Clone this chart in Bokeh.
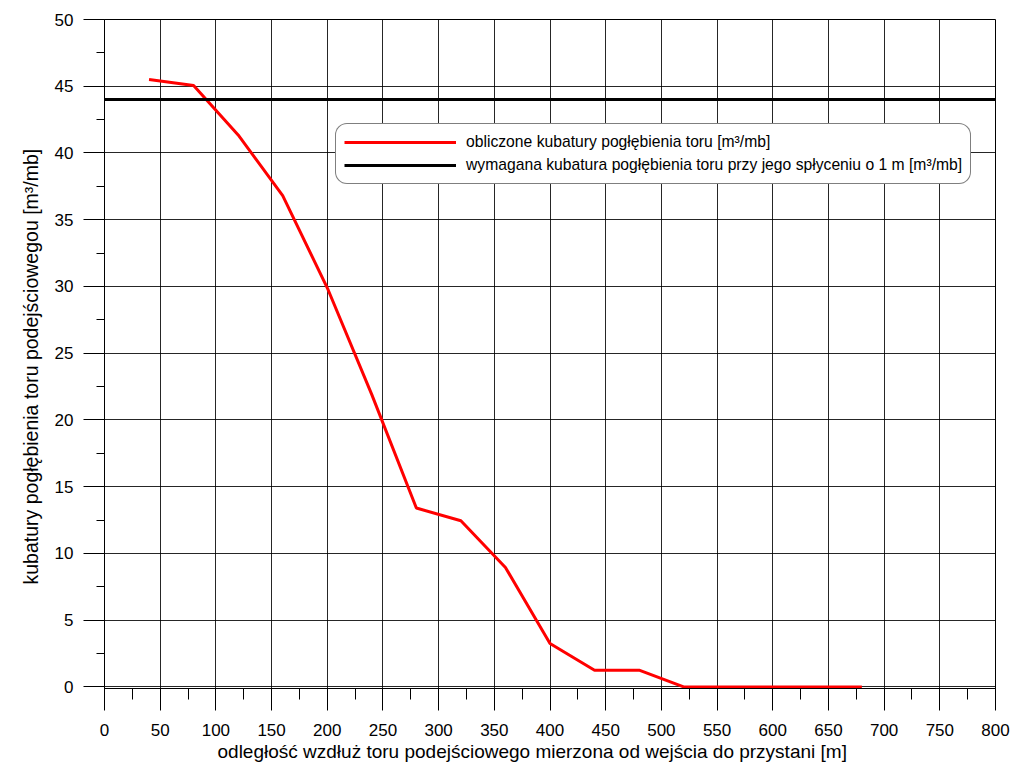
from bokeh.plotting import figure
from bokeh.models import (Range1d, SingleIntervalTicker, Legend, LegendItem,
                          LinearAxis, Grid, Title)
from bokeh.embed import file_html
from bokeh.resources import INLINE

# distance along the approach channel [m]
distance_m = [40, 80, 120, 160, 200, 240, 280, 320, 360, 400, 440, 480, 520, 560, 600, 640, 680]
# computed dredging volumes [m3/mb]
volume_computed = [45.5, 45.05, 41.35, 36.8, 29.9, 21.9, 13.4, 12.45, 8.95, 3.25, 1.25, 1.25, 0, 0, 0, 0, 0]
# required dredging volume for 1 m shallowing [m3/mb]
required_x = [0, 800]
required_y = [44, 44]

x_ticks_interval = 50
y_ticks_interval = 5

x_title = "odległość wzdłuż toru podejściowego mierzona od wejścia do przystani [m]"
y_title = "kubatury pogłębienia toru podejściowegou [m³/mb]"

FONT = "Liberation Sans"

# small negative start so the red line lying on zero is not clipped by the frame
p = figure(width=1013, height=762, output_backend="svg", toolbar_location=None,
           x_range=Range1d(0, 800), y_range=Range1d(-0.12, 50),
           x_axis_type=None, y_axis_type=None)
p.min_border_left = 104
p.min_border_right = 18
p.min_border_top = 19
p.min_border_bottom = 74
p.background_fill_color = "white"
p.border_fill_color = "white"
p.outline_line_color = "black"
p.outline_line_width = 1

xt = SingleIntervalTicker(interval=x_ticks_interval, num_minor_ticks=2)
yt = SingleIntervalTicker(interval=y_ticks_interval, num_minor_ticks=2)

xaxis = LinearAxis(ticker=xt, major_tick_in=0, major_tick_out=22,
                   minor_tick_in=0, minor_tick_out=11, major_label_standoff=13)
yaxis = LinearAxis(ticker=yt, major_tick_in=0, major_tick_out=21,
                   minor_tick_in=0, minor_tick_out=8, major_label_standoff=10)
for ax in (xaxis, yaxis):
    ax.axis_line_color = "black"
    ax.axis_line_width = 1
    ax.major_tick_line_color = "black"
    ax.minor_tick_line_color = "black"
    ax.major_label_text_font = FONT
    ax.major_label_text_font_size = "17px"
    ax.major_label_text_color = "black"
p.add_layout(xaxis, "below")
p.add_layout(yaxis, "left")

for dim, tk in ((0, xt), (1, yt)):
    p.add_layout(Grid(dimension=dim, ticker=tk, grid_line_color="black",
                      grid_line_width=1, grid_line_alpha=0.85))

# axis titles as side-panel titles, shifted along the axis with offset
p.add_layout(Title(text=x_title, align="left", offset=113, standoff=0,
                   text_font=FONT, text_font_size="19px", text_font_style="normal",
                   text_color="black"), "below")
p.add_layout(Title(text=y_title, align="left", offset=104, standoff=20,
                   text_font=FONT, text_font_size="19.5px", text_font_style="normal",
                   text_color="black"), "left")

r_computed = p.line(distance_m, volume_computed, line_color="#ff0000", line_width=3)
r_required = p.line(required_x, required_y, line_color="black", line_width=3)

legend = Legend(items=[
    LegendItem(label="obliczone kubatury pogłębienia toru [m³/mb]", renderers=[r_computed]),
    LegendItem(label="wymagana kubatura pogłębienia toru przy jego spłyceniu o 1 m [m³/mb]", renderers=[r_required]),
], location=(231, 504))
legend.label_text_font = FONT
legend.label_text_font_size = "15.7px"
legend.label_text_color = "black"
legend.glyph_width = 112
legend.glyph_height = 20
legend.label_standoff = 10
legend.padding = 8
legend.spacing = 3
legend.margin = 0
legend.border_line_color = "black"
legend.border_line_width = 1
legend.background_fill_color = "white"
legend.background_fill_alpha = 1
legend.border_radius = 12
p.add_layout(legend, "center")

open("out.html", "w").write(file_html(p, INLINE))
